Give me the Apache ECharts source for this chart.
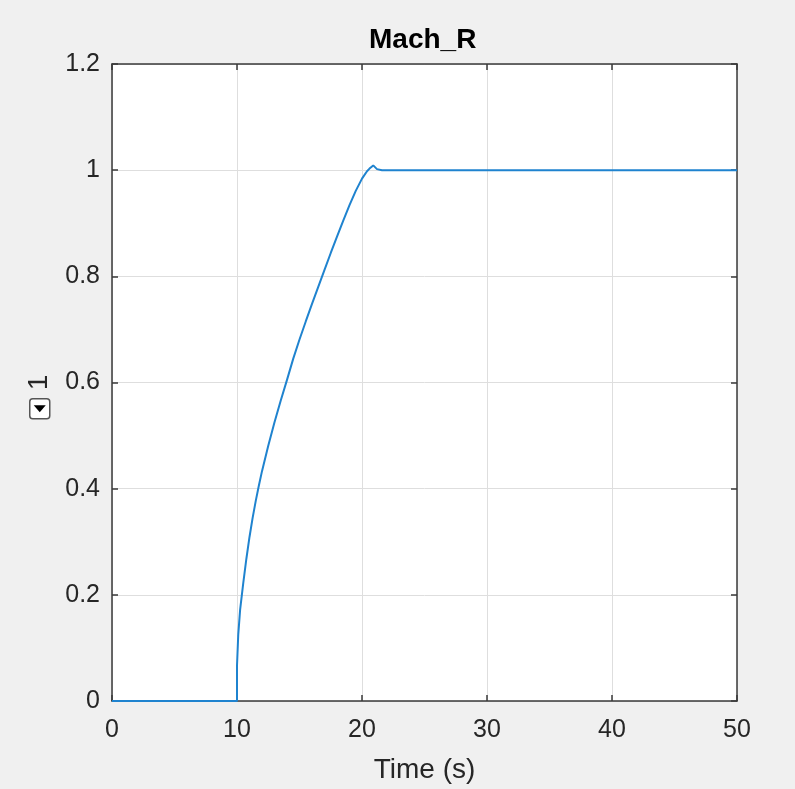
<!DOCTYPE html>
<html>
<head>
<meta charset="utf-8">
<script src="https://cdn.jsdelivr.net/npm/echarts@6/dist/echarts.min.js"></script>
<style>
html,body{margin:0;padding:0;background:#f0f0f0;}
#chart{width:795px;height:789px;}
</style>
</head>
<body>
<div id="chart"></div>
<script>
var chartTitle = 'Mach_R';
var xAxisName = 'Time (s)';
var yAxisName = '1';
var timeValues = [0, 10, 10.0, 10.1, 10.25, 10.5, 10.75, 11.0, 11.25, 11.5, 11.75, 12.0, 12.5, 13.0, 13.5, 14.0, 14.5, 15.0, 15.5, 16.0, 16.5, 17.0, 17.5, 18.0, 18.5, 19.0, 19.5, 20.0, 20.4, 20.6, 20.9, 21.2, 21.6, 50];
var machValues = [0, 0, 0.067, 0.125, 0.172, 0.222, 0.268, 0.309, 0.345, 0.377, 0.406, 0.433, 0.481, 0.525, 0.566, 0.605, 0.645, 0.681, 0.715, 0.748, 0.780, 0.812, 0.844, 0.875, 0.905, 0.934, 0.961, 0.984, 0.998, 1.003, 1.009, 1.002, 1.0, 1.0];
var xTicks = [0, 10, 20, 30, 40, 50];
var yTicks = [0, 0.2, 0.4, 0.6, 0.8, 1, 1.2];

var seriesData = timeValues.map(function (t, i) { return [t, machValues[i]]; });

var FONT = '"Liberation Sans", Arial, Helvetica, sans-serif';
var axisColor = '#3a3a3a';
var textColor = '#262626';
var gridColor = '#dedede';

var chart = echarts.init(document.getElementById('chart'), null, {renderer: 'canvas'});
chart.setOption({
  backgroundColor: '#f0f0f0',
  animation: false,
  title: {
    text: chartTitle,
    left: 369,
    top: 26,
    padding: 0,
    textStyle: {fontFamily: FONT, fontSize: 28, fontWeight: 'bold', color: '#000'}
  },
  grid: {
    left: 112, right: 58, top: 64, bottom: 87,
    show: true, backgroundColor: '#ffffff', borderWidth: 0
  },
  xAxis: [{
    type: 'value',
    min: xTicks[0], max: xTicks[xTicks.length - 1], interval: 10,
    name: xAxisName, nameLocation: 'middle', nameGap: 55,
    nameTextStyle: {fontFamily: FONT, fontSize: 28, color: textColor},
    axisLine: {show: true, onZero: false, lineStyle: {color: axisColor, width: 1.5}},
    axisTick: {show: true, inside: true, length: 6, lineStyle: {color: axisColor, width: 1.5}},
    axisLabel: {fontFamily: FONT, fontSize: 25, color: textColor, margin: 17},
    splitLine: {show: true, lineStyle: {color: gridColor, width: 1}}
  }, {
    type: 'value', position: 'top',
    min: xTicks[0], max: xTicks[xTicks.length - 1], interval: 10,
    axisLine: {show: true, onZero: false, lineStyle: {color: axisColor, width: 1.5}},
    axisTick: {show: true, inside: true, length: 6, lineStyle: {color: axisColor, width: 1.5}},
    axisLabel: {show: false},
    splitLine: {show: false}
  }],
  yAxis: [{
    type: 'value',
    min: yTicks[0], max: yTicks[yTicks.length - 1], interval: 0.2,
    name: yAxisName, nameLocation: 'middle', nameGap: 59, nameRotate: 90,
    nameTextStyle: {fontFamily: FONT, fontSize: 28, color: textColor},
    axisLine: {show: true, onZero: false, lineStyle: {color: axisColor, width: 1.5}},
    axisTick: {show: true, inside: true, length: 6, lineStyle: {color: axisColor, width: 1.5}},
    axisLabel: {fontFamily: FONT, fontSize: 25, color: textColor, margin: 12,
      formatter: function (v) { return String(Math.round(v * 10) / 10); }},
    splitLine: {show: true, lineStyle: {color: gridColor, width: 1}}
  }, {
    type: 'value', position: 'right',
    min: yTicks[0], max: yTicks[yTicks.length - 1], interval: 0.2,
    axisLine: {show: true, onZero: false, lineStyle: {color: axisColor, width: 1.5}},
    axisTick: {show: true, inside: true, length: 6, lineStyle: {color: axisColor, width: 1.5}},
    axisLabel: {show: false},
    splitLine: {show: false}
  }],
  series: [{
    type: 'line',
    xAxisIndex: 0, yAxisIndex: 0,
    data: seriesData,
    showSymbol: false, symbol: 'none',
    lineStyle: {color: '#1f83cf', width: 2},
    z: 3
  }],
  graphic: [{
    type: 'group',
    left: 29, top: 398,
    children: [{
      type: 'rect',
      shape: {x: 0, y: 0, width: 20, height: 20, r: 3},
      style: {fill: '#ffffff', stroke: '#555555', lineWidth: 1.5}
    }, {
      type: 'polygon',
      shape: {points: [[4, 6.5], [16, 6.5], [10, 13.5]]},
      style: {fill: '#000000'}
    }]
  }]
});
</script>
</body>
</html>
